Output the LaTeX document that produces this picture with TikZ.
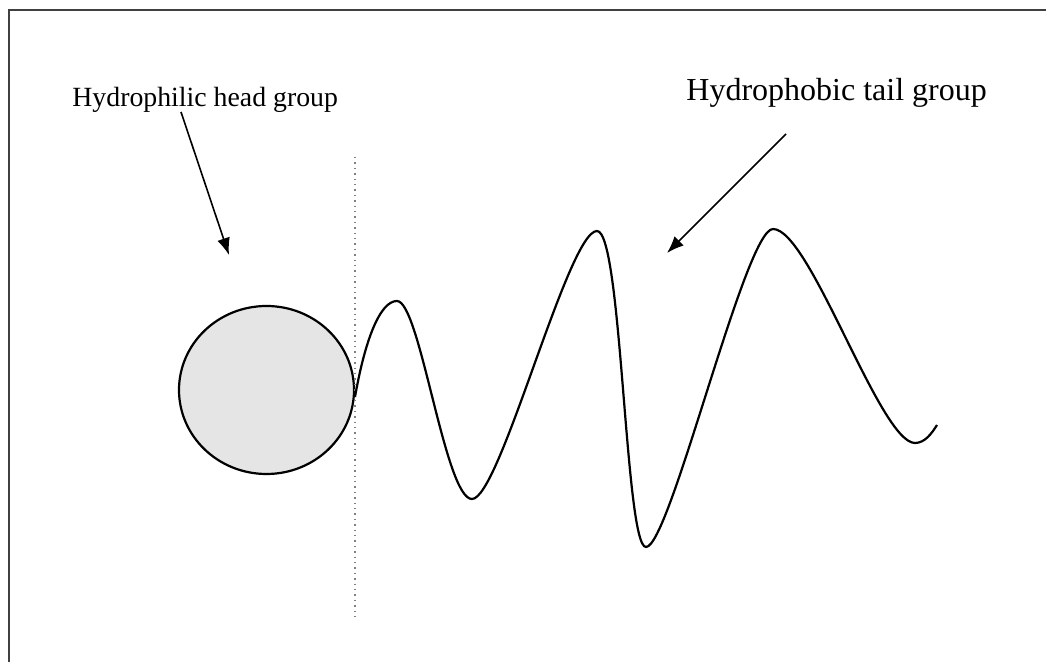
\documentclass[tikz,border=0pt]{standalone}
\usepackage{fontspec}
\setmainfont{Liberation Serif}
\usepackage{tikz}
\usetikzlibrary{arrows.meta}

\tikzset{
  label/.style={inner sep=0pt, anchor=base west},
  pointer/.style={-{Latex[length=8.5pt,width=6.5pt]}, line width=0.8pt},
}

\begin{document}
\begin{tikzpicture}[x=0.5pt, y=-0.5pt]
  \useasboundingbox (0,0) rectangle (1046,662);
  % Frame (top and left edges only)
  \draw[line width=1.2pt, black!75] (1046,10) -- (9,10) -- (9,662);
  % Labels
  \node[label, font=\fontsize{13.9}{16}\selectfont] (phil) at (72,107) {Hydrophilic head group};
  \node[label, font=\fontsize{16}{19}\selectfont] (phob) at (686,101) {Hydrophobic tail group};
  % Head group
  \fill[gray!20] (266.5,390) ellipse (87.5 and 84);
  \draw[line width=1.1pt] (266.5,390) ellipse (87.5 and 84);
  % Boundary between head and tail
  \draw[dotted, line width=0.7pt, gray] (355,157) -- (355,618);
  % Tail
  \draw[line width=1.1pt]
    (355,397) .. controls (365,340) and (380,301) .. (397,301)
              .. controls (420,301) and (445,499) .. (472,499)
              .. controls (500,499) and (568,231) .. (597,231)
              .. controls (622,231) and (625,547) .. (646,547)
              .. controls (670,547) and (745,229) .. (773,229)
              .. controls (810,229) and (880,443) .. (915,443)
              .. controls (925,443) and (932,433) .. (937,425);
  % Arrows
  \coordinate (headfrom) at (181,112);
  \coordinate (headto) at (229,255);
  \coordinate (tailfrom) at (786,134);
  \coordinate (tailto) at (667,253);
  \draw[pointer] (headfrom) -- (headto);
  \draw[pointer] (tailfrom) -- (tailto);
\end{tikzpicture}
\end{document}
